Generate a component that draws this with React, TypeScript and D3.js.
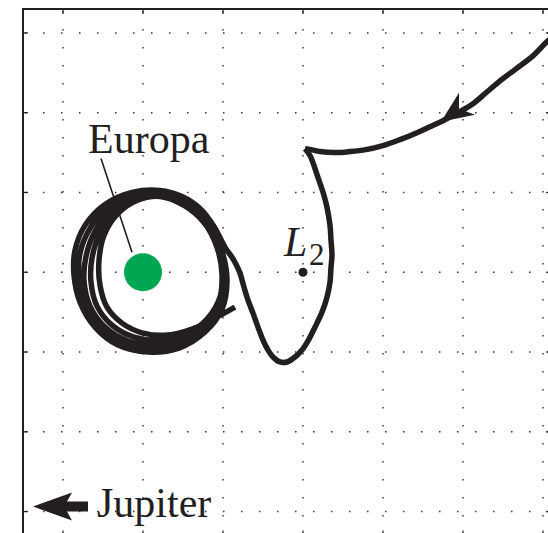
import React from "react";
import * as d3 from "d3";

// Data units: Europa at origin, grid step = 80 units
const gridX = [-80, 0, 80, 160, 240, 320, 400];
const gridY = [-240, -160, -80, 0, 80, 160, 240];

const europa = { x: 0, y: 0, r: 19 };
const l2 = { x: 160, y: 0 };

// incoming leg (from upper right to the cusp)
const incoming: [number, number][] = [
  [419, 242], [405, 232], [390, 217], [373, 204], [357, 192], [343, 180],
  [330, 169], [315, 160], [300, 152], [287, 146], [274, 140], [257, 133],
  [240, 127], [223, 123], [207, 121], [192, 120], [177, 121], [168, 123], [162, 124],
];

// from cusp, around L2 region, then spiralling into Europa orbit
const capture: [number, number][] = [
  [162, 124], [167, 117], [175, 95], [181, 77], [184, 65], [187, 47], [188, 32],
  [189, 17], [188, 5], [187, -10], [184, -25], [179, -40], [172, -55], [166, -67],
  [159, -78], [152, -85], [144, -90], [137, -90], [130, -85], [125, -78], [120, -68],
  [115, -55], [110, -41], [105, -28], [101, -15], [97, -1], [93, 8], [89, 15],
  [82, 25], [71, 46], [57, 64], [39, 76],
  // loop 1
  [17, 82], [-11, 80], [-38, 68], [-58, 47], [-68, 22], [-69, -3], [-63, -30],
  [-48, -55], [-25, -73], [5, -80], [36, -76], [62, -60], [79, -37], [84, -9],
  [79, 21], [66, 48], [47, 68],
  // loop 2
  [22, 80], [-8, 78], [-35, 66], [-53, 44], [-63, 19], [-64, -6], [-58, -33],
  [-43, -56], [-20, -72], [9, -77], [38, -72], [62, -56], [76, -33], [80, -5],
  [76, 23], [63, 49], [44, 67],
  // loop 3
  [20, 78], [-6, 76], [-31, 63], [-48, 41], [-57, 16], [-59, -8], [-53, -34],
  [-38, -55], [-15, -69], [13, -73], [40, -67], [63, -51], [76, -29], [79, -2],
  [74, 25], [61, 50], [42, 67],
  // loop 4
  [19, 77], [-5, 74], [-27, 61], [-43, 39], [-51, 14], [-52, -10], [-46, -34],
  [-31, -53], [-9, -65], [17, -68], [43, -62], [64, -47], [77, -25], [80, 1],
  [74, 28], [60, 51], [41, 67],
  // loop 5 (final)
  [17, 76], [-6, 72], [-25, 59], [-39, 37], [-44, 12], [-43, -13], [-36, -35],
  [-21, -51], [0, -61], [25, -63], [49, -57], [70, -47], [92, -35],
];

const arrowHead: [number, number][] = [[298, 151], [316, 180], [316, 164], [332, 158]];
const jupiterArrow: [number, number][] = [
  [-110, -235], [-71, -221], [-76, -230], [-55, -230], [-55, -240], [-76, -240], [-71, -249],
];
const leader: [number, number][] = [[-42, 114], [-11, 20]];

const W = 548;
const H = 533;
const xScale = d3.scaleLinear().domain([-120, 408]).range([23, 551]);
const yScale = d3.scaleLinear().domain([-264, 264]).range([535.5, 9]);

const INK = "#231f20";
const FONT = "'Liberation Serif', 'Times New Roman', serif";

export default function App() {
  const line = d3
    .line<[number, number]>()
    .x((d) => xScale(d[0]))
    .y((d) => yScale(d[1]))
    .curve(d3.curveCatmullRom.alpha(0.5));
  const poly = (pts: [number, number][]) =>
    pts.map((p) => `${xScale(p[0])},${yScale(p[1])}`).join(" ");

  const x0 = xScale.range()[0];
  const x1 = xScale.range()[1];
  const y0 = yScale.range()[1];
  const y1 = yScale.range()[0];
  const tick = 5;

  return (
    <svg
      width={W}
      height={H}
      style={{ position: "absolute", left: 0, top: 0, background: "#fff" }}
    >
      <rect x={0} y={0} width={W} height={H} fill="#fff" />
      {/* grid */}
      {gridX.map((g) => (
        <line
          key={"gx" + g}
          x1={xScale(g)}
          x2={xScale(g)}
          y1={y0 + 2}
          y2={y1}
          stroke="#333"
          strokeWidth={1.4}
          strokeDasharray="1.5 16.5"
        />
      ))}
      {gridY.map((g) => (
        <line
          key={"gy" + g}
          y1={yScale(g)}
          y2={yScale(g)}
          x1={x0 + 2}
          x2={x1}
          stroke="#333"
          strokeWidth={1.4}
          strokeDasharray="1.5 16.5"
        />
      ))}
      {/* ticks */}
      {gridX.map((g) => (
        <g key={"tx" + g}>
          <line x1={xScale(g)} x2={xScale(g)} y1={y0} y2={y0 + tick} stroke={INK} strokeWidth={1.2} />
          <line x1={xScale(g)} x2={xScale(g)} y1={y1} y2={y1 - tick} stroke={INK} strokeWidth={1.2} />
        </g>
      ))}
      {gridY.map((g) => (
        <g key={"ty" + g}>
          <line y1={yScale(g)} y2={yScale(g)} x1={x0} x2={x0 + tick} stroke={INK} strokeWidth={1.2} />
          <line y1={yScale(g)} y2={yScale(g)} x1={x1} x2={x1 - tick} stroke={INK} strokeWidth={1.2} />
        </g>
      ))}
      {/* frame */}
      <rect x={x0} y={y0} width={x1 - x0} height={y1 - y0} fill="none" stroke={INK} strokeWidth={2} />

      {/* Europa */}
      <circle cx={xScale(europa.x)} cy={yScale(europa.y)} r={europa.r} fill="#00a651" />

      {/* trajectory */}
      <path d={line(incoming) || ""} fill="none" stroke={INK} strokeWidth={5.5} strokeLinejoin="round" />
      <path d={line(capture) || ""} fill="none" stroke={INK} strokeWidth={5.5} strokeLinejoin="round" />
      <polygon points={poly(arrowHead)} fill={INK} />

      {/* L2 */}
      <circle cx={xScale(l2.x)} cy={yScale(l2.y)} r={4.5} fill={INK} />
      <text x={xScale(141)} y={yScale(16)} fontFamily={FONT} fontSize={42} fontStyle="italic" fill={INK}>
        L
      </text>
      <text x={xScale(166)} y={yScale(7)} fontFamily={FONT} fontSize={31} fill={INK}>
        2
      </text>

      {/* Europa label */}
      <text x={xScale(-55)} y={yScale(120)} fontFamily={FONT} fontSize={42} fill={INK}>
        Europa
      </text>
      <line
        x1={xScale(leader[0][0])}
        y1={yScale(leader[0][1])}
        x2={xScale(leader[1][0])}
        y2={yScale(leader[1][1])}
        stroke={INK}
        strokeWidth={1.6}
      />

      {/* Jupiter arrow */}
      <polygon points={poly(jupiterArrow)} fill={INK} />
      <text x={xScale(-46)} y={yScale(-245)} fontFamily={FONT} fontSize={42} fill={INK}>
        Jupiter
      </text>
    </svg>
  );
}
